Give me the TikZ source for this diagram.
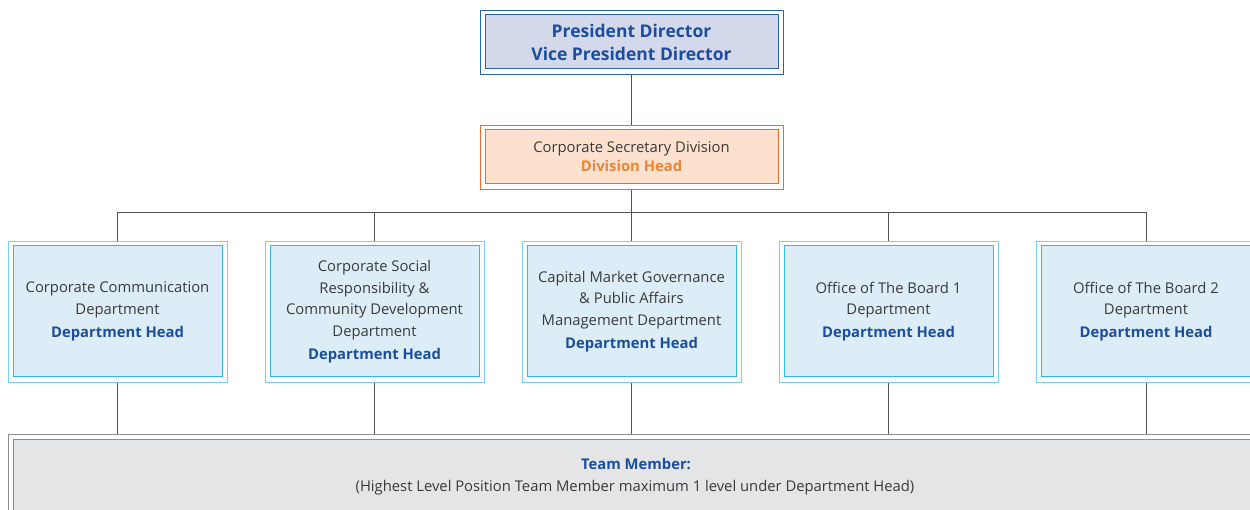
\documentclass[tikz,border=0pt]{standalone}
\usepackage{fontspec}
\setmainfont{Open Sans}
\usetikzlibrary{calc,backgrounds}
\definecolor{topfill}{HTML}{D3D9EB}
\definecolor{topline}{HTML}{2A63AE}
\definecolor{bluetext}{HTML}{1C4E9C}
\definecolor{secfill}{HTML}{FCE1CF}
\definecolor{secline}{HTML}{EC6B34}
\definecolor{orangetext}{HTML}{F0862E}
\definecolor{deptfill}{HTML}{DCEDF8}
\definecolor{deptline}{HTML}{35B6E8}
\definecolor{deptouter}{HTML}{7CCFF0}
\definecolor{teamfill}{HTML}{E4E5E7}
\definecolor{teamline}{HTML}{8C8C8C}
\definecolor{bodytext}{HTML}{3A3A3A}
\definecolor{conn}{HTML}{555555}
\pgfdeclarelayer{background}
\pgfdeclarelayer{frame}
\pgfsetlayers{background,frame,main}
\tikzset{
  box/.style={rectangle, inner sep=0pt, align=center, text=bodytext,
    font=\fontsize{14.8}{21.5}\selectfont},
  topbox/.style={box, draw=topline, fill=topfill, line width=1pt,
    minimum width=293, minimum height=54, text=bluetext,
    font=\fontsize{17.5}{23}\selectfont\bfseries},
  secbox/.style={box, draw=secline, fill=secfill, line width=1pt,
    minimum width=293, minimum height=54, font=\fontsize{14.8}{19}\selectfont},
  deptbox/.style={box, draw=deptline, fill=deptfill, line width=1pt,
    minimum width=209, minimum height=131},
  teambox/.style={box, draw=teamline, fill=teamfill, line width=1pt,
    minimum width=1250, minimum height=90},
  connector/.style={draw=conn, line width=0.9pt},
  frameline/.style={fill=white, line width=0.9pt}
}
\newcommand{\myframe}[2]{%
  \begin{pgfonlayer}{frame}
  \draw[frameline, draw=#2] ($(#1.south west)+(-4.5,4.5)$) rectangle ($(#1.north east)+(4.5,-4.5)$);
  \end{pgfonlayer}}
\newcommand{\depthead}{\\[1.5pt]\textcolor{bluetext}{\bfseries Department Head}}
\begin{document}
\begin{tikzpicture}[x=1pt,y=-1pt]
\useasboundingbox (0,0) rectangle (1250,510);
\clip (0,0) rectangle (1250,510);
\node[topbox] (top) at (631.5,42) {President Director\\Vice President Director};
\myframe{top}{topline}
\node[secbox] (sec) at (631.5,157) {Corporate Secretary Division\\\textcolor{orangetext}{\bfseries Division Head}};
\myframe{sec}{secline}
\node[deptbox] (d1) at (117.5,311.5) {Corporate Communication\\Department\depthead};
\node[deptbox] (d2) at (374.5,311.5) {Corporate Social\\Responsibility \&\\Community Development\\Department\depthead};
\node[deptbox] (d3) at (631.5,311.5) {Capital Market Governance\\\& Public Affairs\\Management Department\depthead};
\node[deptbox] (d4) at (888.5,311.5) {Office of The Board 1\\Department\depthead};
\node[deptbox] (d5) at (1146,311.5) {Office of The Board 2\\Department\depthead};
\foreach \n in {d1,d2,d3,d4,d5}{\myframe{\n}{deptouter}}
\node[teambox] (team) at (638,484) {};
\myframe{team}{teamline}
\node[box, text=bluetext, font=\fontsize{14.8}{18}\selectfont\bfseries] (tm) at (636,464) {Team Member:};
\node[box] (tmnote) at (635,488) {(Highest Level Position Team Member maximum 1 level under Department Head)};
\coordinate (bus) at (631.5,212);
\begin{pgfonlayer}{background}
\draw[connector] (top.south) -- (sec.north);
\draw[connector] (sec.south) -- (bus);
\draw[connector] (d1.north |- bus) -- (d5.north |- bus);
\foreach \n in {d1,d2,d3,d4,d5}{
  \draw[connector] (\n.north |- bus) -- (\n.north);
  \draw[connector] (\n.south) -- (\n.south |- team.north);
}
\end{pgfonlayer}
\end{tikzpicture}
\end{document}
